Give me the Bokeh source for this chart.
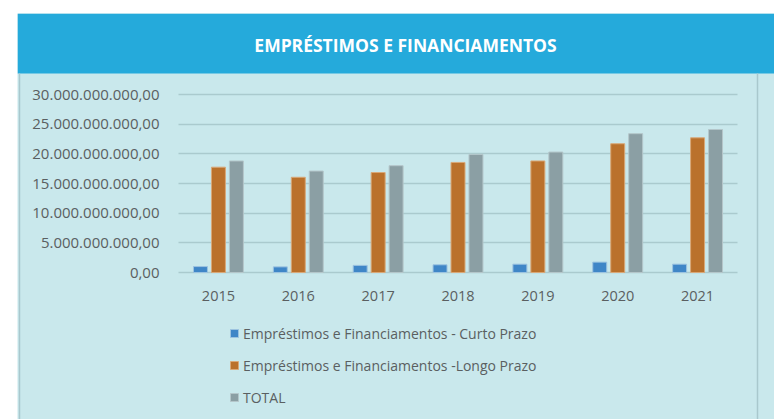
from bokeh.plotting import figure
from bokeh.models import (ColumnDataSource, Range1d, FixedTicker, Label,
                          Legend, LegendItem, BoxAnnotation)
from bokeh.transform import dodge
from bokeh.embed import file_html
from bokeh.resources import INLINE

# ---- data ----
years = ["2015", "2016", "2017", "2018", "2019", "2020", "2021"]
curto_prazo = [1.00e9, 0.95e9, 1.20e9, 1.30e9, 1.40e9, 1.75e9, 1.40e9]
longo_prazo = [17.75e9, 16.05e9, 16.85e9, 18.55e9, 18.80e9, 21.70e9, 22.70e9]
total = [18.80e9, 17.10e9, 18.00e9, 19.90e9, 20.30e9, 23.40e9, 24.10e9]
series_names = ["Empréstimos e Financiamentos - Curto Prazo",
                "Empréstimos e Financiamentos -Longo Prazo",
                "TOTAL"]
y_ticks = [0, 5000000000, 10000000000, 15000000000, 20000000000, 25000000000, 30000000000]
y_tick_labels = ["0,00", "5.000.000.000,00", "10.000.000.000,00", "15.000.000.000,00",
                 "20.000.000.000,00", "25.000.000.000,00", "30.000.000.000,00"]
title_text = "EMPRÉSTIMOS E FINANCIAMENTOS"

# ---- styles ----
HEADER_BLUE = "#25AADB"
PANEL = "#C9E8EC"
GRID = "#AACACE"
EDGE = "#A9C8CD"
TEXT = "#5A5F61"
colors = ["#3F86C7", "#BA712C", "#8B9FA4"]
outline = ["#9CC3E0", "#D9A878", "#B4C6CA"]
FONT = "Open Sans"

# ---- layout geometry (page pixels; the canvas sits at the page origin) ----
W, H = 774, 419
FL, FT = 17, 13            # frame left/top (frame reaches right/bottom edges)
FR, FB = 774, 419
PL, PR = 178, 737          # plot area left/right
PT, PB = 94, 272           # plot area top (30bn) / bottom (0)
YMAX = 30e9
n = len(years)
ux = (PR - PL) / n
uy = (PB - PT) / YMAX

def xv(px):
    return -0.5 + (px - PL) / ux

def yv(py):
    return (PB - py) / uy

p = figure(width=W, height=H,
           x_range=Range1d(xv(FL), xv(FR)), y_range=Range1d(yv(FB), yv(FT)),
           toolbar_location=None, output_backend="svg",
           min_border_left=FL, min_border_top=FT,
           min_border_right=0, min_border_bottom=0)
p.background_fill_color = PANEL
p.border_fill_color = "white"
p.outline_line_color = None

src = ColumnDataSource(dict(x=list(range(n)), curto=curto_prazo, longo=longo_prazo, total=total))
bw = 0.175
off = 0.225
r1 = p.vbar(x=dodge("x", -off), top="curto", width=bw, source=src,
            fill_color=colors[0], line_color=outline[0], line_width=1)
r2 = p.vbar(x=dodge("x", 0.0), top="longo", width=bw, source=src,
            fill_color=colors[1], line_color=outline[1], line_width=1)
r3 = p.vbar(x=dodge("x", off), top="total", width=bw, source=src,
            fill_color=colors[2], line_color=outline[2], line_width=1)

# axes inside the frame
p.xaxis.fixed_location = 0
p.yaxis.fixed_location = -0.5
p.xaxis.ticker = FixedTicker(ticks=list(range(n)))
p.xaxis.major_label_overrides = {i: y for i, y in enumerate(years)}
p.yaxis.ticker = FixedTicker(ticks=y_ticks)
p.yaxis.major_label_overrides = dict(zip(y_ticks, y_tick_labels))
for ax in (p.xaxis[0], p.yaxis[0]):
    ax.axis_line_color = None
    ax.major_tick_line_color = None
    ax.minor_tick_line_color = None
    ax.major_tick_out = 0
    ax.major_tick_in = 0
    ax.major_label_text_font = FONT
    ax.major_label_text_color = TEXT
p.yaxis.major_label_text_font_size = "15px"
p.xaxis.major_label_text_font_size = "14.5px"
p.yaxis.major_label_standoff = 19
p.xaxis.major_label_standoff = 18

p.xgrid.visible = False
p.ygrid.ticker = FixedTicker(ticks=y_ticks)
p.ygrid.grid_line_color = GRID
p.ygrid.grid_line_width = 1.6
try:
    p.ygrid.cross_bounds = (-0.5, n - 0.5)
except AttributeError:
    p.ygrid.visible = False
    p.segment(x0=-0.5, x1=n - 0.5, y0=y_ticks, y1=y_ticks, line_color=GRID, line_width=1.6,
              level="underlay")

# header band and title
p.add_layout(BoxAnnotation(bottom=yv(73), fill_color=HEADER_BLUE, fill_alpha=1, line_color=None))
p.add_layout(Label(x=405 - FL, x_units="screen", y=yv(44), text=title_text,
                   text_align="center", text_baseline="middle", text_color="white",
                   text_font=FONT, text_font_style="bold", text_font_size="17.5px"))

# panel side lines
for cx in (19, 757):
    p.add_layout(BoxAnnotation(left=xv(cx - 0.75), right=xv(cx + 0.75), top=yv(73),
                               fill_color=EDGE, fill_alpha=1, line_color=None))

legend = Legend(items=[LegendItem(label=series_names[0], renderers=[r1]),
                       LegendItem(label=series_names[1], renderers=[r2]),
                       LegendItem(label=series_names[2], renderers=[r3])],
                location=(229 - FL, FB - 407), orientation="vertical",
                background_fill_alpha=0, border_line_color=None,
                padding=0, margin=0, spacing=12, label_height=20,
                glyph_width=10, glyph_height=10, label_standoff=4,
                label_text_font=FONT, label_text_font_size="14px", label_text_color=TEXT)
p.add_layout(legend, "center")

open("out.html", "w").write(file_html(p, INLINE))
